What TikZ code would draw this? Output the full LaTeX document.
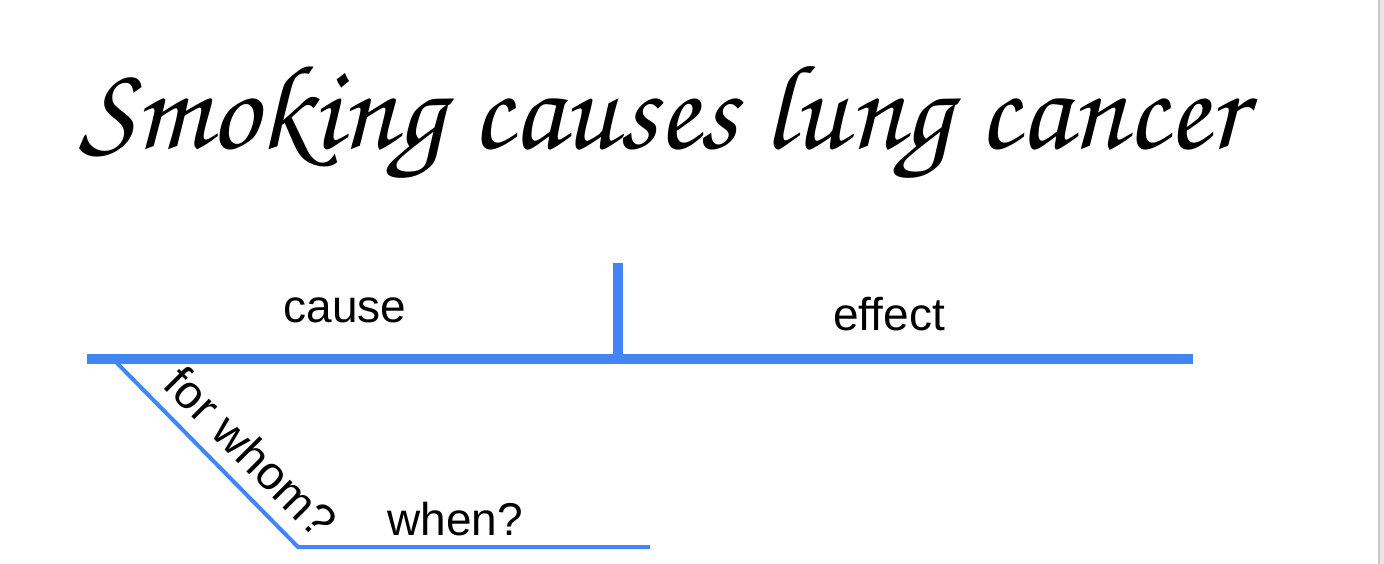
\documentclass[tikz,border=0pt]{standalone}
\usepackage{fontspec}
\setmainfont{Liberation Sans}
\newfontfamily\titlescript{texgyrechorus-mediumitalic.otf}
\definecolor{lineblue}{HTML}{4285F4}
\definecolor{edgegray}{HTML}{C8C8C8}
\definecolor{edgefill}{HTML}{E6E6E8}
\begin{document}
\begin{tikzpicture}[x=1pt,y=-1pt,
  thick line/.style={draw=lineblue,line width=10pt},
  thin line/.style={draw=lineblue,line width=4pt},
  label text/.style={font=\fontsize{46}{50}\selectfont,inner sep=0pt,anchor=base}]
\useasboundingbox (0,0) rectangle (1384,564);
\fill[white] (0,0) rectangle (1384,564);
\fill[edgefill] (1379,0) rectangle (1384,564);
\draw[edgegray,line width=2pt] (1379,0) -- (1379,564);
% title
\node[inner sep=0pt,anchor=base] (title) at (662,149)
  {\resizebox{1165pt}{!}{\titlescript Smoking causes lung cancer}};
% frame coordinates
\coordinate (mainL) at (87,359);
\coordinate (mainR) at (1193,359);
\coordinate (divTop) at (618,263);
\coordinate (divBot) at (618,359);
\coordinate (diagTop) at (115,361);
\coordinate (diagBot) at (298,547);
\coordinate (lowR) at (650,547);
\draw[thick line] (mainL) -- (mainR);
\draw[thick line] (divTop) -- (divBot);
\draw[thin line,line cap=butt] (diagTop) -- (diagBot) -- (lowR);
% labels
\node[label text] (cause) at (345,322) {cause};
\node[label text] (effect) at (889,330) {effect};
\node[label text] (when) at (455,535) {when?};
\node[font=\fontsize{47}{50}\selectfont,inner sep=0pt,rotate=-45] (forwhom) at (251,452) {for whom?};
\end{tikzpicture}
\end{document}
